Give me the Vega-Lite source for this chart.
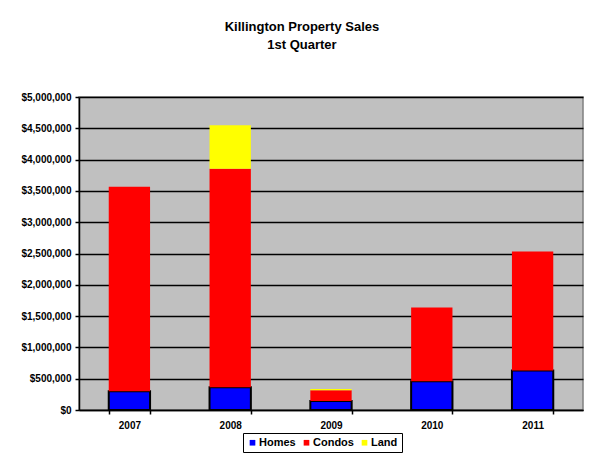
{
  "$schema": "https://vega.github.io/schema/vega-lite/v6.json",
  "width": 504,
  "height": 313,
  "autosize": {"type": "none"},
  "padding": {"left": 79, "top": 97, "right": 11, "bottom": 60},
  "background": "white",
  "title": {
    "text": ["Killington Property Sales", "1st Quarter"],
    "font": "Liberation Sans",
    "fontSize": 13,
    "fontWeight": "bold",
    "color": "black",
    "anchor": "middle",
    "frame": "bounds",
    "lineHeight": 18,
    "offset": 40
  },
  "data": {
    "values": [
      {"year": "2007", "type": "Homes", "ord": 1, "value": 300000},
      {"year": "2007", "type": "Condos", "ord": 2, "value": 3265000},
      {"year": "2007", "type": "Land", "ord": 3, "value": 0},
      {"year": "2008", "type": "Homes", "ord": 1, "value": 362000},
      {"year": "2008", "type": "Condos", "ord": 2, "value": 3490000},
      {"year": "2008", "type": "Land", "ord": 3, "value": 696000},
      {"year": "2009", "type": "Homes", "ord": 1, "value": 144000},
      {"year": "2009", "type": "Condos", "ord": 2, "value": 170000},
      {"year": "2009", "type": "Land", "ord": 3, "value": 20000},
      {"year": "2010", "type": "Homes", "ord": 1, "value": 458000},
      {"year": "2010", "type": "Condos", "ord": 2, "value": 1181000},
      {"year": "2010", "type": "Land", "ord": 3, "value": 0},
      {"year": "2011", "type": "Homes", "ord": 1, "value": 629000},
      {"year": "2011", "type": "Condos", "ord": 2, "value": 1904000},
      {"year": "2011", "type": "Land", "ord": 3, "value": 0}
    ]
  },
  "mark": {"type": "bar", "stroke": "black"},
  "encoding": {
    "x": {
      "field": "year",
      "type": "nominal",
      "scale": {"paddingInner": 0.59, "paddingOuter": 0.295},
      "axis": {
        "title": null,
        "labelAngle": 0,
        "tickBand": "extent",
        "tickSize": 4,
        "tickColor": "black",
        "tickWidth": 1.5,
        "domainColor": "black",
        "domainWidth": 1.5,
        "labelPadding": 6,
        "grid": false
      }
    },
    "y": {
      "field": "value",
      "type": "quantitative",
      "stack": "zero",
      "scale": {"domain": [0, 5000000], "nice": false},
      "axis": {
        "title": null,
        "format": "$,.0f",
        "values": [0, 500000, 1000000, 1500000, 2000000, 2500000, 3000000, 3500000, 4000000, 4500000, 5000000],
        "tickSize": 4,
        "tickColor": "black",
        "tickWidth": 1.5,
        "domainColor": "black",
        "domainWidth": 1.5,
        "gridColor": "black",
        "gridWidth": 1.5,
        "gridOpacity": 1,
        "labelPadding": 4
      }
    },
    "color": {
      "field": "type",
      "type": "nominal",
      "scale": {"domain": ["Homes", "Condos", "Land"], "range": ["#0000FF", "#FF0000", "#FFFF00"]},
      "legend": {
        "orient": "none",
        "legendX": 164,
        "legendY": 336,
        "direction": "horizontal",
        "title": null,
        "strokeColor": "black",
        "padding": 4,
        "symbolType": "square",
        "symbolSize": 32,
        "symbolStrokeWidth": 0,
        "labelFontSize": 11,
        "labelFont": "Liberation Sans",
        "labelFontWeight": "bold",
        "labelColor": "black",
        "columnPadding": 5,
        "labelOffset": 1
      }
    },
    "order": {"field": "ord", "type": "quantitative"},
    "strokeWidth": {
      "condition": {"test": "datum.type === 'Homes'", "value": 2},
      "value": 0
    }
  },
  "config": {
    "view": {"fill": "#C0C0C0", "stroke": "#808080", "strokeWidth": 1.5},
    "axis": {
      "labelFont": "Liberation Sans",
      "labelFontSize": 10,
      "labelFontWeight": "bold",
      "labelColor": "black"
    }
  }
}
